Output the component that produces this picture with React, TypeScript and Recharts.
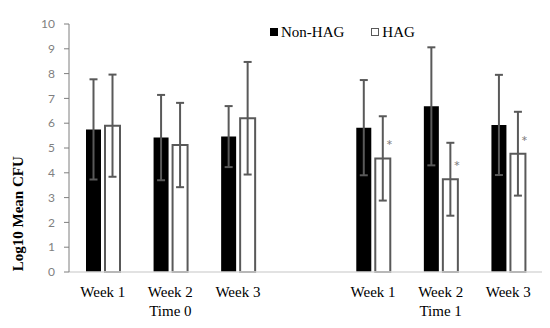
import { BarChart, Bar, XAxis, YAxis, ErrorBar, Legend, LabelList } from 'recharts';

const categories = ['t0w1', 't0w2', 't0w3', 'gap', 't1w1', 't1w2', 't1w3'];
const weekLabels = ['Week 1', 'Week 2', 'Week 3', '', 'Week 1', 'Week 2', 'Week 3'];
const timeLabels = ['', 'Time 0', '', '', '', 'Time 1', ''];
const nonHag = [5.75, 5.42, 5.46, null, 5.82, 6.68, 5.93];
const nonHagErr = [2.02, 1.72, 1.23, null, 1.92, 2.38, 2.02];
const hag = [5.9, 5.12, 6.2, null, 4.58, 3.74, 4.77];
const hagErr = [2.06, 1.7, 2.27, null, 1.7, 1.47, 1.69];
const hagSig = ['', '', '', '', '*', '*', '*'];
const yTicks = [0, 1, 2, 3, 4, 5, 6, 7, 8, 9, 10];

const data = categories.map((c, i) => ({
  cat: c,
  nonHag: nonHag[i],
  nonHagErr: nonHagErr[i],
  hag: hag[i],
  hagErr: hagErr[i],
  sig: hagSig[i],
}));

const SERIF = '"Liberation Serif", "Times New Roman", serif';
const SANS = 'Lato, "Liberation Sans", sans-serif';
const GREY = '#595959';

function WeekTick(props: any) {
  const { x, y, index } = props;
  return (
    <g>
      <text x={x} y={y + 25} textAnchor="middle" fontFamily={SERIF} fontSize={15} fill="#000">
        {weekLabels[index]}
      </text>
      <text x={x} y={y + 44} textAnchor="middle" fontFamily={SERIF} fontSize={15} fill="#000">
        {timeLabels[index]}
      </text>
    </g>
  );
}

function Asterisk(props: any) {
  const { x, y, width, value } = props;
  if (!value) return null;
  return (
    <text x={x + width / 2 + 6.5} y={y - 7} textAnchor="middle" fontFamily={SANS} fontSize={16} fill="#808080">
      {value}
    </text>
  );
}

function YTitle(props: any) {
  const { viewBox } = props;
  const cx = 18;
  const cy = viewBox.y + viewBox.height * 0.765;
  return (
    <text
      x={cx}
      y={cy}
      transform={`rotate(-90, ${cx}, ${cy})`}
      textAnchor="middle"
      dominantBaseline="central"
      fontFamily={SERIF}
      fontWeight="bold"
      fontSize={15}
      fill="#000"
    >
      Log10 Mean CFU
    </text>
  );
}

function LegendContent() {
  const item = (filled: boolean, label: string, gap: number) => (
    <span style={{ display: 'inline-flex', alignItems: 'center', marginRight: gap, fontFamily: SERIF }}>
      <span
        style={{
          display: 'inline-block',
          width: filled ? 8 : 6,
          height: filled ? 8 : 6,
          background: filled ? '#000' : '#fff',
          border: filled ? 'none' : `1px solid ${GREY}`,
          marginRight: 3,
        }}
      />
      <span style={{ fontFamily: SERIF }}>{label}</span>
    </span>
  );
  return (
    <div style={{ fontFamily: SERIF, fontSize: 15, color: '#000', whiteSpace: 'nowrap', lineHeight: '17px' }}>
      {item(true, 'Non-HAG', 27)}
      {item(false, 'HAG', 0)}
    </div>
  );
}

export default function App() {
  return (
    <div style={{ position: 'absolute', left: 0, top: 0, background: '#fff' }}>
      <BarChart
        width={550}
        height={328}
        data={data}
        barSize={15}
        barGap={4}
        margin={{ top: 24, right: 8, left: 0, bottom: 0 }}
      >
        <XAxis
          dataKey="cat"
          height={56}
          tickSize={0}
          tickMargin={0}
          tick={<WeekTick />}
          interval={0}
          axisLine={{ stroke: '#d9d9d9', strokeWidth: 1.5 }}
          tickLine={false}
        />
        <YAxis
          width={69}
          domain={[0, 10]}
          ticks={yTicks}
          interval={0}
          tickSize={5}
          tickMargin={9}
          tick={{ fontFamily: SANS, fontSize: 12, fill: '#7f7f7f' }}
          axisLine={{ stroke: '#7f7f7f' }}
          tickLine={{ stroke: '#7f7f7f' }}
          label={<YTitle />}
        />
        <Legend
          layout="horizontal"
          verticalAlign="middle"
          content={<LegendContent />}
          wrapperStyle={{ top: 23, left: 270, width: 200, fontFamily: SERIF }}
        />
        <Bar dataKey="nonHag" name="Non-HAG" fill="#000" isAnimationActive={false}>
          <ErrorBar dataKey="nonHagErr" direction="y" width={4} strokeWidth={2} stroke={GREY} isAnimationActive={false} />
        </Bar>
        <Bar dataKey="hag" name="HAG" fill="#fff" stroke={GREY} strokeWidth={2} isAnimationActive={false}>
          <ErrorBar dataKey="hagErr" direction="y" width={4} strokeWidth={2} stroke={GREY} isAnimationActive={false} />
          <LabelList dataKey="sig" content={<Asterisk />} />
        </Bar>
      </BarChart>
    </div>
  );
}
